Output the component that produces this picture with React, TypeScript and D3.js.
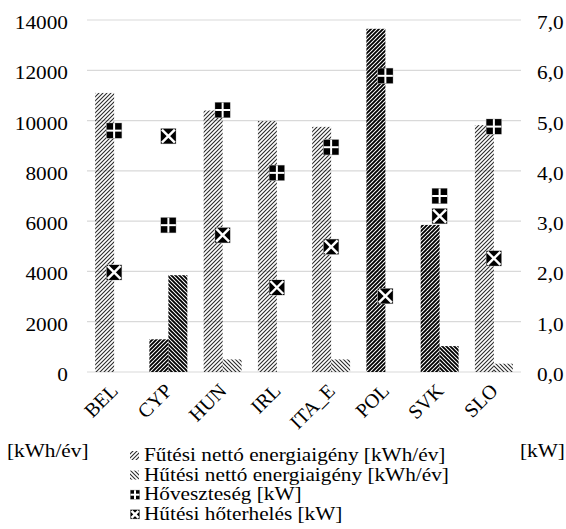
import React from "react";
import * as d3 from "d3";

// Energy demand per building type (kWh/év) and peak loads (kW)
const categories = ["BEL", "CYP", "HUN", "IRL", "ITA_E", "POL", "SVK", "SLO"];
const heatingDemand = [11100, 1300, 10400, 9980, 9750, 13650, 5850, 9820];
const coolingDemand = [0, 3850, 500, 0, 500, 0, 1030, 330];
const heatLoss = [4.8, 2.92, 5.21, 3.96, 4.47, 5.89, 3.5, 4.88];
const coolingLoad = [1.98, 4.69, 2.72, 1.68, 2.49, 1.51, 3.1, 2.26];

const leftTicks = [0, 2000, 4000, 6000, 8000, 10000, 12000, 14000];
const rightTicks = [0, 1, 2, 3, 4, 5, 6, 7];

const seriesNames = [
  "Fűtési nettó energiaigény [kWh/év]",
  "Hűtési nettó energiaigény [kWh/év]",
  "Hőveszteség [kW]",
  "Hűtési hőterhelés [kW]",
];
const leftUnit = "[kWh/év]";
const rightUnit = "[kW]";

// categories drawn with the denser hatch
const denseHatch = new Set(["CYP", "POL", "SVK"]);

const W = 566;
const H = 529;
const FONT = "Liberation Serif";
const FS = 19;
const SX = 1.12;

const x = d3.scaleBand<string>().domain(categories).range([87, 521]);
const xSub = d3
  .scaleBand<string>()
  .domain(["heat", "cool"])
  .range([0, x.bandwidth()])
  .paddingInner(0)
  .paddingOuter(0.43);
const yL = d3.scaleLinear().domain([0, 14000]).range([372, 20]);
const yR = d3.scaleLinear().domain([0, 7]).range([372, 20]);
const fmtR = (v: number) => d3.format(".1f")(v).replace(".", ",");

function PlusMarker({ cx, cy, s = 15 }: { cx: number; cy: number; s?: number }) {
  const h = s / 2;
  return (
    <g transform={`translate(${cx},${cy})`}>
      <rect x={-h - 0.5} y={-h - 0.5} width={s + 1} height={s + 1} fill="#c8c8c8" />
      <rect x={-h} y={-h} width={s} height={s} fill="#000" />
      <line x1={-h} x2={h} y1={0} y2={0} stroke="#fff" strokeWidth={2} />
      <line x1={0} x2={0} y1={-h} y2={h} stroke="#fff" strokeWidth={2} />
    </g>
  );
}

function CrossMarker({ cx, cy, s = 15 }: { cx: number; cy: number; s?: number }) {
  const h = s / 2;
  return (
    <g transform={`translate(${cx},${cy})`}>
      <rect x={-h - 0.5} y={-h - 0.5} width={s + 1} height={s + 1} fill="#d0d0d0" />
      <rect x={-h} y={-h} width={s} height={s} fill="#000" />
      <line x1={-h + 1} x2={h - 1} y1={-h + 1} y2={h - 1} stroke="#fff" strokeWidth={2.4} />
      <line x1={-h + 1} x2={h - 1} y1={h - 1} y2={-h + 1} stroke="#fff" strokeWidth={2.4} />
    </g>
  );
}

function STxt({
  x0,
  y0,
  anchor = "start",
  children,
}: {
  x0: number;
  y0: number;
  anchor?: string;
  children: React.ReactNode;
}) {
  return (
    <text
      transform={`translate(${x0},${y0}) scale(${SX},1)`}
      textAnchor={anchor as any}
      fontFamily={FONT}
      fontSize={FS}
      fill="#000"
    >
      {children}
    </text>
  );
}

export default function App() {
  return (
    <svg
      width={W}
      height={H}
      style={{ position: "absolute", left: 0, top: 0, background: "#fff" }}
    >
      <defs>
        <pattern id="hatchUp" patternUnits="userSpaceOnUse" width={4} height={4}>
          <path d="M-1,1 l2,-2 M0,4 l4,-4 M3,5 l2,-2" stroke="#2a2a2a" strokeWidth={1.1} />
        </pattern>
        <pattern id="hatchUpDense" patternUnits="userSpaceOnUse" width={4} height={4}>
          <path d="M-1,1 l2,-2 M0,4 l4,-4 M3,5 l2,-2" stroke="#000" strokeWidth={1.9} />
        </pattern>
        <pattern id="hatchDown" patternUnits="userSpaceOnUse" width={4} height={4}>
          <path d="M-1,3 l2,2 M0,0 l4,4 M3,-1 l2,2" stroke="#2a2a2a" strokeWidth={1.1} />
        </pattern>
        <pattern id="hatchDownDense" patternUnits="userSpaceOnUse" width={4} height={4}>
          <path d="M-1,3 l2,2 M0,0 l4,4 M3,-1 l2,2" stroke="#000" strokeWidth={1.9} />
        </pattern>
      </defs>

      {/* gridlines */}
      {leftTicks.map((t) => (
        <line
          key={t}
          x1={87}
          x2={521}
          y1={yL(t)}
          y2={yL(t)}
          stroke="#d9d9d9"
          strokeWidth={1.2}
        />
      ))}

      {/* left axis labels */}
      {leftTicks.map((t) => (
        <STxt key={t} x0={68} y0={yL(t) + 9} anchor="end">
          {String(t)}
        </STxt>
      ))}

      {/* right axis labels */}
      {rightTicks.map((t) => (
        <STxt key={t} x0={537} y0={yR(t) + 9}>
          {fmtR(t)}
        </STxt>
      ))}

      {/* bars */}
      {categories.map((c, i) => {
        const x0 = x(c)!;
        const dense = denseHatch.has(c);
        return (
          <g key={c}>
            <rect
              x={x0 + xSub("heat")!}
              y={yL(heatingDemand[i])}
              width={xSub.bandwidth()}
              height={yL(0) - yL(heatingDemand[i])}
              fill={dense ? "url(#hatchUpDense)" : "url(#hatchUp)"}
            />
            {coolingDemand[i] > 0 && (
              <rect
                x={x0 + xSub("cool")!}
                y={yL(coolingDemand[i])}
                width={xSub.bandwidth()}
                height={yL(0) - yL(coolingDemand[i])}
                fill={dense ? "url(#hatchDownDense)" : "url(#hatchDown)"}
              />
            )}
          </g>
        );
      })}

      {/* markers */}
      {categories.map((c, i) => {
        const cx = x(c)! + x.bandwidth() / 2;
        return (
          <g key={c}>
            <CrossMarker cx={cx} cy={yR(coolingLoad[i])} />
            <PlusMarker cx={cx} cy={yR(heatLoss[i])} />
          </g>
        );
      })}

      {/* category labels */}
      {categories.map((c) => {
        const cx = x(c)! + x.bandwidth() / 2;
        return (
          <text
            key={c}
            transform={`translate(${cx + 5},${392}) rotate(-45)`}
            textAnchor="end"
            fontFamily={FONT}
            fontSize={20}
            fill="#000"
          >
            {c}
          </text>
        );
      })}

      {/* axis units */}
      <STxt x0={7} y0={457}>
        {leftUnit}
      </STxt>
      <STxt x0={520} y0={457}>
        {rightUnit}
      </STxt>

      {/* legend */}
      {seriesNames.map((name, i) => {
        const by = 461 + i * 19.6;
        const sy = by - 10;
        let swatch: React.ReactNode;
        if (i === 0)
          swatch = <rect x={130} y={sy} width={9} height={9} fill="url(#hatchUp)" />;
        else if (i === 1)
          swatch = <rect x={130} y={sy} width={9} height={9} fill="url(#hatchDown)" />;
        else if (i === 2) swatch = <PlusMarker cx={135} cy={sy + 4.5} s={9} />;
        else swatch = <CrossMarker cx={135} cy={sy + 4.5} s={9} />;
        return (
          <g key={name}>
            {swatch}
            <STxt x0={144} y0={by}>
              {name}
            </STxt>
          </g>
        );
      })}
    </svg>
  );
}
